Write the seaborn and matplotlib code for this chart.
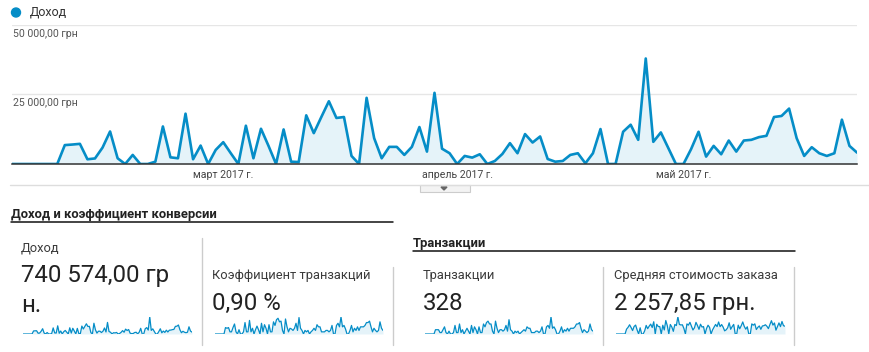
import matplotlib
matplotlib.use("Agg")
import matplotlib.pyplot as plt
import numpy as np
import pandas as pd
import seaborn as sns
from matplotlib.lines import Line2D
from matplotlib.patches import Rectangle, Polygon, Ellipse

# ---------------- data ----------------
start_date = "2017-02-01"

revenue = [
    0, 0, 0, 0, 0, 0, 0, 6800, 7000, 7250,
    1700, 2000, 5900, 11700, 2060, 0, 3260, 0, 0, 830,
    13500, 2400, 2060, 18100, 1700, 6630, 0, 5070, 7850, 3870,
    0, 13770, 2060, 12680, 6520, 0, 12430, 830, 700, 17500,
    11100, 16900, 22570, 16560, 16900, 2900, 0, 23800, 9300, 2060,
    6160, 6160, 3260, 6160, 13300, 4460, 25600, 5500, 3870, 0,
    2900, 2300, 3500, 0, 1090, 3620, 7500, 3870, 10760, 7720,
    9900, 1800, 830, 1090, 3260, 3870, 240, 3870, 12570, 0,
    0, 11600, 14130, 8700, 37950, 7970, 11350, 5680, 0, 0,
    5300, 11600, 2660, 6520, 3500, 8440, 4460, 8440, 8700, 9660,
    10140, 16900, 17280, 19930, 9300, 2900, 6040, 3870, 2900, 3870,
    15940, 6520, 4100,
]

transactions = [
    0, 0, 0, 0, 0, 0, 0, 3, 3, 3,
    1, 1, 3, 5, 1, 0, 2, 0, 0, 1,
    6, 1, 1, 7, 1, 3, 0, 2, 4, 2,
    0, 6, 1, 5, 3, 0, 5, 1, 1, 7,
    5, 8, 9, 7, 7, 2, 0, 9, 4, 1,
    3, 3, 2, 3, 6, 2, 10, 3, 2, 0,
    2, 1, 2, 0, 1, 2, 3, 2, 5, 4,
    4, 1, 1, 1, 2, 2, 1, 2, 5, 0,
    0, 5, 6, 4, 12, 4, 5, 3, 0, 0,
    2, 5, 1, 3, 2, 4, 2, 4, 4, 4,
    5, 7, 7, 8, 4, 1, 3, 2, 1, 2,
    7, 3, 2,
]

conv_rate = [
    0, 0, 0, 0, 0, 0, 0, 0.9, 0.8, 0.9,
    0.3, 0.3, 0.9, 1.4, 0.3, 0, 0.6, 0, 0, 0.3,
    1.6, 0.3, 0.3, 1.9, 0.3, 0.8, 0, 0.6, 1.1, 0.6,
    0, 1.5, 0.3, 1.3, 0.8, 0, 1.3, 0.3, 0.3, 1.7,
    1.2, 2.0, 2.2, 1.7, 1.8, 0.5, 0, 2.1, 1.0, 0.3,
    0.8, 0.7, 0.5, 0.8, 1.5, 0.5, 2.3, 0.8, 0.5, 0,
    0.5, 0.3, 0.5, 0, 0.3, 0.5, 0.8, 0.5, 1.3, 1.0,
    1.0, 0.3, 0.3, 0.3, 0.5, 0.5, 0.3, 0.5, 1.2, 0,
    0, 1.2, 1.5, 1.0, 2.4, 1.0, 1.2, 0.7, 0, 0,
    0.5, 1.2, 0.3, 0.8, 0.5, 1.0, 0.5, 1.0, 1.0, 1.0,
    1.2, 1.6, 1.6, 1.8, 1.0, 0.3, 0.8, 0.5, 0.3, 0.5,
    1.7, 0.8, 0.5,
]

avg_order = [
    0, 0, 0, 0, 0, 0, 0, 1270, 1750, 2420,
    1700, 900, 1970, 2340, 1060, 0, 1630, 0, 0, 830,
    2250, 1400, 2060, 2590, 1700, 3210, 0, 2540, 1960, 1940,
    0, 2300, 1060, 3540, 2170, 0, 2490, 1830, 700, 2500,
    2220, 4500, 2510, 2370, 2410, 1450, 0, 2640, 2330, 3060,
    2050, 1050, 1630, 3050, 2220, 1230, 2560, 1830, 1940, 0,
    1450, 2300, 1750, 0, 1090, 1810, 2500, 1940, 3150, 1930,
    2480, 1800, 830, 1090, 1630, 2940, 1240, 1940, 2510, 0,
    0, 2320, 1360, 2180, 3160, 1990, 1270, 1890, 0, 0,
    2650, 2320, 2660, 1170, 1750, 2110, 1230, 2110, 2180, 2420,
    2030, 1410, 2470, 3490, 2330, 2900, 1010, 1940, 2900, 1940,
    3280, 2170, 2050,
]

ytick_values = [25000, 50000]
ytick_labels = ["25 000,00 грн", "50 000,00 грн"]
month_ticks = ["2017-03-01", "2017-04-01", "2017-05-01"]
month_labels = ["март 2017 г.", "апрель 2017 г.", "май 2017 г."]

legend_label = "Доход"
section1 = "Доход и коэффициент конверсии"
section2 = "Транзакции"
card_titles = ["Доход", "Коэффициент транзакций", "Транзакции", "Средняя стоимость заказа"]
card_values = ["740 574,00 гр\nн.", "0,90 %", "328", "2 257,85 грн."]

# ---------------- setup ----------------
sns.set_theme(style="white")
plt.rcParams["font.family"] = ["Roboto", "DejaVu Sans"]

BLUE = "#058DC7"
W, H = 869, 352
fig = plt.figure(figsize=(W / 100, H / 100), dpi=100)
fig.patch.set_facecolor("white")


def ax_px(x0, y0, x1, y1):
    return fig.add_axes([x0 / W, 1 - y1 / H, (x1 - x0) / W, (y1 - y0) / H])


def T(x, y, s, **kw):
    return fig.text(x / W, 1 - y / H, s, **kw)


def hline(x0, x1, y, **kw):
    fig.add_artist(Line2D([x0 / W, x1 / W], [1 - y / H, 1 - y / H],
                          transform=fig.transFigure, **kw))


def vline(x, y0, y1, **kw):
    fig.add_artist(Line2D([x / W, x / W], [1 - y0 / H, 1 - y1 / H],
                          transform=fig.transFigure, **kw))


dates = pd.date_range(start_date, periods=len(revenue), freq="D")
df = pd.DataFrame({
    "date": dates,
    "revenue": revenue,
    "transactions": transactions,
    "conv": conv_rate,
    "aov": avg_order,
})

# ---------------- main chart ----------------
ax = ax_px(12, 25, 857, 164)
sns.lineplot(data=df, x="date", y="revenue", ax=ax, color=BLUE, linewidth=1.9)
ax.fill_between(df["date"], df["revenue"], color=BLUE, alpha=0.1, linewidth=0)
ax.set_xlim(dates[0], dates[-1])
ax.set_ylim(0, 50000)
ax.set_xlabel("")
ax.set_ylabel("")
ax.set_yticks(ytick_values)
ax.set_yticklabels([])
ax.tick_params(axis="y", length=0)
ax.yaxis.grid(True, color="#e6e6e6", linewidth=1)
ax.xaxis.grid(False)
ax.set_axisbelow(True)
for s in ["top", "left", "right"]:
    ax.spines[s].set_visible(False)
ax.spines["bottom"].set_color("#333333")
ax.spines["bottom"].set_linewidth(1.1)
ax.set_xticks(pd.to_datetime(month_ticks))
ax.set_xticklabels(month_labels, fontsize=7.6, color="#444444")
ax.tick_params(axis="x", length=0, pad=4)
for v, lab in zip(ytick_values, ytick_labels):
    ax.annotate(lab, xy=(0, v), xycoords=("axes fraction", "data"),
                xytext=(1, -9), textcoords="offset pixels", va="center",
                ha="left", fontsize=7.6, color="#555555", annotation_clip=False)

# legend
fig.add_artist(Ellipse((16 / W, 1 - 12.5 / H), 9 / W, 9 / H,
                       transform=fig.transFigure, color=BLUE))
T(30, 12.5, legend_label, fontsize=9, color="#333333", va="center", ha="left")

# separator and tab
hline(10, 869, 185, color="#dddddd", linewidth=1)
fig.add_artist(Rectangle((420 / W, 1 - 192 / H), 50 / W, 7 / H,
                         transform=fig.transFigure, facecolor="#f3f3f3",
                         edgecolor="#cccccc", linewidth=0.8))
fig.add_artist(Polygon([[441 / W, 1 - 187 / H], [447 / W, 1 - 187 / H], [444 / W, 1 - 190 / H]],
                       closed=True, transform=fig.transFigure, color="#666666"))

# ---------------- section headers ----------------
T(11, 218, section1, fontsize=9.4, fontweight="bold", color="#222222", va="baseline")
hline(11, 393, 222, color="#111111", linewidth=1.1)
T(413, 247, section2, fontsize=9.4, fontweight="bold", color="#222222", va="baseline")
hline(413, 795, 251, color="#111111", linewidth=1.1)

# ---------------- cards ----------------
title_pos = [(21, 251), (212, 279), (423, 279), (614, 279)]
for (x, y), t in zip(title_pos, card_titles):
    T(x, y, t, fontsize=9.3, color="#3a3a3a", va="baseline")

v0 = card_values[0].split("\n")
T(21, 282, v0[0], fontsize=17.3, color="#222222", va="baseline")
T(21, 311.5, v0[1], fontsize=17.3, color="#222222", va="baseline")
for x, v in zip([212, 423, 614], card_values[1:]):
    T(x, 310, v, fontsize=17.3, color="#222222", va="baseline")

vline(202, 238, 345, color="#cccccc", linewidth=1)
for x in [393, 603, 794]:
    vline(x, 267, 345, color="#cccccc", linewidth=1)


def spark(x0, x1, col):
    a = ax_px(x0, 316.5, x1, 334)
    sns.lineplot(data=df, x="date", y=col, ax=a, color=BLUE, linewidth=0.9)
    a.fill_between(df["date"], df[col], color=BLUE, alpha=0.1, linewidth=0)
    a.set_xlim(dates[0], dates[-1])
    a.set_ylim(0, df[col].max() * 1.02)
    a.axis("off")


spark(23, 192, "revenue")
spark(215, 383, "conv")
spark(425, 593, "transactions")
spark(616, 785, "aov")

fig.savefig("out.png", dpi=100, facecolor="white")
